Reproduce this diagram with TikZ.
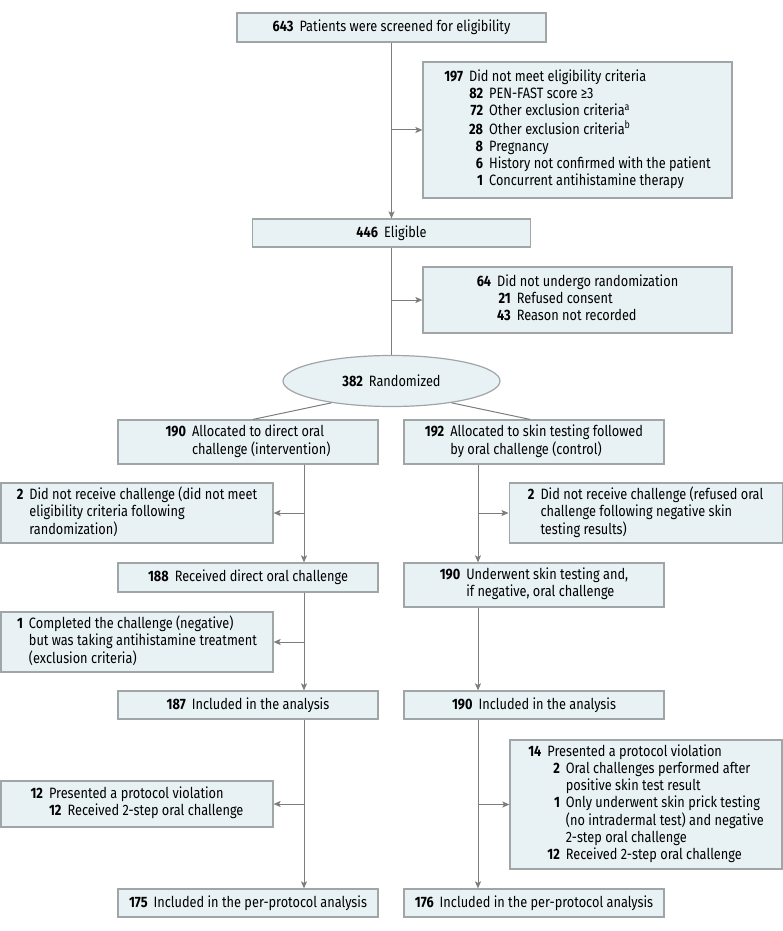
\documentclass[tikz,border=0pt]{standalone}
\usepackage{fontspec}
\setmainfont{Fira Sans}[FakeStretch=0.85]
\usepackage{tikz}
\usetikzlibrary{shapes.geometric, arrows.meta, positioning}
\definecolor{boxfill}{RGB}{232,242,245}
\definecolor{boxline}{RGB}{160,165,168}
\definecolor{flowline}{RGB}{125,125,125}

\begin{document}
\begin{tikzpicture}[x=1pt, y=-1pt,
    box/.style={rectangle, draw=boxline, fill=boxfill, line width=1.2pt,
                inner sep=0pt, font=\fontsize{15}{17}\selectfont},
    oval/.style={ellipse, draw=boxline, fill=boxfill, line width=1.2pt,
                 inner sep=0pt, font=\fontsize{15}{17}\selectfont},
    line/.style={draw=flowline, line width=1pt},
    arr/.style={line, -{Stealth[length=7pt, width=6pt, inset=1.5pt]}}
]
\useasboundingbox (0,0) rectangle (783,931);

% trunk
\node[box, minimum width=309pt, minimum height=29pt] (screen) at (391.5,27.5)
    {\textbf{643}\hspace{6pt}Patients were screened for eligibility};
\node[box, minimum width=309pt, minimum height=136pt] (excl) at (577.5,130)
    {\begin{tabular}{@{}r@{\hspace{6pt}}r@{\hspace{6pt}}l@{}}
     \textbf{197} & \multicolumn{2}{@{}l@{}}{Did not meet eligibility criteria}\\
     & \textbf{82} & PEN-FAST score ≥3\\
     & \textbf{72} & Other exclusion criteria\textsuperscript{a}\\
     & \textbf{28} & Other exclusion criteria\textsuperscript{b}\\
     & \textbf{8} & Pregnancy\\
     & \textbf{6} & History not confirmed with the patient\\
     & \textbf{1} & Concurrent antihistamine therapy
     \end{tabular}};
\node[box, minimum width=278pt, minimum height=28pt] (elig) at (391.5,233)
    {\textbf{446}\hspace{6pt}Eligible};
\node[box, minimum width=309pt, minimum height=66pt] (norand) at (577.5,300)
    {\begin{tabular}{@{}r@{\hspace{6pt}}r@{\hspace{6pt}}l@{}}
     \textbf{64} & \multicolumn{2}{@{}l@{}}{Did not undergo randomization}\\
     & \textbf{21} & Refused consent\\
     & \textbf{43} & Reason not recorded
     \end{tabular}};
\node[oval, minimum width=217pt, minimum height=51pt] (rand) at (391.5,381)
    {\textbf{382}\hspace{6pt}Randomized};

% intervention arm
\node[box, minimum width=260pt, minimum height=44pt] (allocL) at (248,442)
    {\begin{tabular}{@{}r@{\hspace{6pt}}l@{}}
     \textbf{190} & Allocated to direct oral\\
     & challenge (intervention)
     \end{tabular}};
\node[box, minimum width=272pt, minimum height=60pt] (nochL) at (137,513)
    {\begin{tabular}{@{}r@{\hspace{6pt}}l@{}}
     \textbf{2} & Did not receive challenge (did not meet\\
     & eligibility criteria following\\
     & randomization)
     \end{tabular}};
\node[box, minimum width=260pt, minimum height=29pt] (recL) at (248,577.5)
    {\textbf{188}\hspace{6pt}Received direct oral challenge};
\node[box, minimum width=272pt, minimum height=60pt] (complL) at (137,642)
    {\begin{tabular}{@{}r@{\hspace{6pt}}l@{}}
     \textbf{1} & Completed the challenge (negative)\\
     & but was taking antihistamine treatment\\
     & (exclusion criteria)
     \end{tabular}};
\node[box, minimum width=260pt, minimum height=28pt] (inclL) at (248,705)
    {\textbf{187}\hspace{6pt}Included in the analysis};
\node[box, minimum width=272pt, minimum height=46pt] (violL) at (137,804)
    {\begin{tabular}{@{}r@{\hspace{6pt}}r@{\hspace{6pt}}l@{}}
     \textbf{12} & \multicolumn{2}{@{}l@{}}{Presented a protocol violation}\\
     & \textbf{12} & Received 2-step oral challenge
     \end{tabular}};
\node[box, minimum width=260pt, minimum height=28pt] (ppL) at (248,903)
    {\textbf{175}\hspace{6pt}Included in the per-protocol analysis};

% control arm
\node[box, minimum width=260pt, minimum height=44pt] (allocR) at (534,442)
    {\begin{tabular}{@{}r@{\hspace{6pt}}l@{}}
     \textbf{192} & Allocated to skin testing followed\\
     & by oral challenge (control)
     \end{tabular}};
\node[box, minimum width=273pt, minimum height=60pt] (nochR) at (645.6,513)
    {\begin{tabular}{@{}r@{\hspace{6pt}}l@{}}
     \textbf{2} & Did not receive challenge (refused oral\\
     & challenge following negative skin\\
     & testing results)
     \end{tabular}};
\node[box, minimum width=260pt, minimum height=44pt] (skinR) at (534,585)
    {\begin{tabular}{@{}r@{\hspace{6pt}}l@{}}
     \textbf{190} & Underwent skin testing and,\\
     & if negative, oral challenge
     \end{tabular}};
\node[box, minimum width=260pt, minimum height=28pt] (inclR) at (534,705)
    {\textbf{190}\hspace{6pt}Included in the analysis};
\node[box, minimum width=272pt, minimum height=129pt] (violR) at (646,804.5)
    {\begin{tabular}{@{}r@{\hspace{6pt}}r@{\hspace{6pt}}l@{}}
     \textbf{14} & \multicolumn{2}{@{}l@{}}{Presented a protocol violation}\\
     & \textbf{2} & Oral challenges performed after\\
     & & positive skin test result\\
     & \textbf{1} & Only underwent skin prick testing\\
     & & (no intradermal test) and negative\\
     & & 2-step oral challenge\\
     & \textbf{12} & Received 2-step oral challenge
     \end{tabular}};
\node[box, minimum width=260pt, minimum height=28pt] (ppR) at (534,903)
    {\textbf{176}\hspace{6pt}Included in the per-protocol analysis};

% flow lines
\coordinate (lx) at (304,0);
\coordinate (rx) at (478,0);

\draw[arr] (screen) -- (elig);
\draw[arr] (excl.west -| screen.south) -- (excl.west);
\draw[line] (elig) -- (rand);
\draw[arr] (norand.west -| elig.south) -- (norand.west);

\draw[line] (rand.200) -- ([xshift=5pt]allocL.north);
\draw[line] (rand.340) -- ([xshift=-4pt]allocR.north);

\draw[arr] (allocL.south -| lx) -- (recL.north -| lx);
\draw[arr] (nochL.east -| lx) -- (nochL.east);
\draw[arr] (recL.south -| lx) -- (inclL.north -| lx);
\draw[arr] (complL.east -| lx) -- (complL.east);
\draw[arr] (inclL.south -| lx) -- (ppL.north -| lx);
\draw[arr] (violL.east -| lx) -- (violL.east);

\draw[arr] (allocR.south -| rx) -- (skinR.north -| rx);
\draw[arr] (nochR.west -| rx) -- (nochR.west);
\draw[arr] (skinR.south -| rx) -- (inclR.north -| rx);
\draw[arr] (inclR.south -| rx) -- (ppR.north -| rx);
\draw[arr] (violR.west -| rx) -- (violR.west);
\end{tikzpicture}
\end{document}
